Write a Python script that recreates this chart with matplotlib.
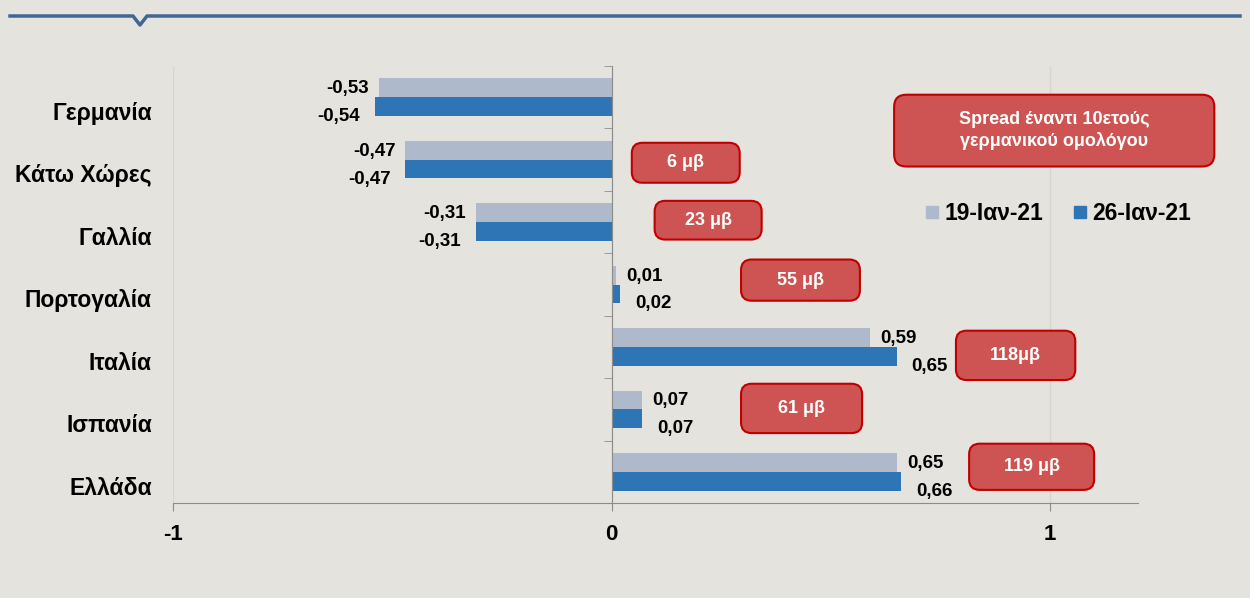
import numpy as np
import matplotlib
matplotlib.use('Agg')
import matplotlib.pyplot as plt
from matplotlib.patches import FancyBboxPatch
from matplotlib.lines import Line2D
from matplotlib.transforms import blended_transform_factory

plt.rcParams['font.family'] = ['Liberation Sans', 'DejaVu Sans']

# data
COUNTRIES = ['Γερμανία', 'Κάτω Χώρες', 'Γαλλία', 'Πορτογαλία', 'Ιταλία', 'Ισπανία', 'Ελλάδα']
JAN19 = [-0.53, -0.47, -0.31, 0.01, 0.59, 0.07, 0.65]
JAN26 = [-0.54, -0.47, -0.31, 0.02, 0.65, 0.07, 0.66]
SERIES = ['19-Ιαν-21', '26-Ιαν-21']
SPREADS = ['', '6 μβ', '23 μβ', '55 μβ', '118μβ', '61 μβ', '119 μβ']
BOX_TITLE = 'Spread έναντι 10ετούς\nγερμανικού ομολόγου'

# box layout (x0, x1, y0, y1 in data units)
BOXES = [None, (0.046, 0.292, 0.73, 1.37), (0.098, 0.342, 1.66, 2.28),
         (0.295, 0.566, 2.60, 3.26), (0.785, 1.057, 3.74, 4.53),
         (0.295, 0.571, 4.59, 5.38), (0.815, 1.100, 5.55, 6.29)]
TITLE_BOX = (0.644, 1.374, -0.04, 1.11)

BG = '#E4E3DE'
LIGHT = '#AEB9CB'
DARK = '#2E75B6'
RED = '#CD5452'
RED_EDGE = '#C00000'

fig = plt.figure(figsize=(12.5, 5.98), dpi=100, facecolor=BG)
ax = fig.add_axes([173/1250, 1-503/598, 965/1250, 437/598], facecolor=BG)

y = np.arange(len(COUNTRIES))
h = 0.3
ax.barh(y - h/2, JAN19, height=h, color=LIGHT, label=SERIES[0], zorder=3)
ax.barh(y + h/2, JAN26, height=h, color=DARK, label=SERIES[1], zorder=3)

def fmt(v):
    return ('%.2f' % v).replace('.', ',')

for i in range(len(COUNTRIES)):
    for v, yy, gap, dy in [(JAN19[i], y[i] - h/2, 10, -1), (JAN26[i], y[i] + h/2, 15, -10)]:
        ha = 'right' if v < 0 else 'left'
        ax.annotate(fmt(v), (v, yy), xytext=(-gap if v < 0 else gap, dy),
                    textcoords='offset pixels', ha=ha, va='center',
                    fontsize=13.5, fontweight='bold', color='black', zorder=5)

ax.set_xlim(-1, 1.2)
ax.set_ylim(len(COUNTRIES) - 0.5, -0.5)

# axes styling
for s in ['top', 'right']:
    ax.spines[s].set_visible(False)
ax.spines['left'].set_position(('data', 0))
ax.spines['left'].set_color('#8C8C8C')
ax.spines['bottom'].set_color('#8C8C8C')
ax.spines['left'].set_zorder(4)
ax.set_yticks([])
ax.set_yticks(np.arange(len(COUNTRIES) + 1) - 0.5, minor=True)
ax.tick_params(axis='y', which='minor', length=6, color='#8C8C8C', direction='out')
ax.set_xticks([-1, 0, 1])
ax.set_xticklabels(['-1', '0', '1'])
ax.tick_params(axis='x', length=6, color='#8C8C8C', labelsize=16, pad=9)
for lbl in ax.get_xticklabels():
    lbl.set_fontweight('bold')
ax.grid(axis='x', color='#D6D5CF', linewidth=1, zorder=0)

trans = blended_transform_factory(ax.transAxes, ax.transData)
for i, c in enumerate(COUNTRIES):
    ax.text(-0.022, y[i] + 0.26, c, transform=trans, ha='right', va='center',
            fontsize=16.5, fontweight='bold')

# spread boxes
for i, b in enumerate(BOXES):
    if b is None:
        continue
    x0, x1, y0, y1 = b
    ax.add_patch(FancyBboxPatch((x0, y0), x1 - x0, y1 - y0,
                                boxstyle='round,pad=0,rounding_size=0.024',
                                mutation_aspect=7, fc=RED, ec=RED_EDGE, lw=1.5,
                                zorder=6, clip_on=False))
    ax.text((x0 + x1) / 2, (y0 + y1) / 2, SPREADS[i], ha='center', va='center',
            color='white', fontsize=13, fontweight='bold', zorder=7)

x0, x1, y0, y1 = TITLE_BOX
ax.add_patch(FancyBboxPatch((x0, y0), x1 - x0, y1 - y0,
                            boxstyle='round,pad=0,rounding_size=0.028',
                            mutation_aspect=7, fc=RED, ec=RED_EDGE, lw=1.5,
                            zorder=6, clip_on=False))
ax.text((x0 + x1) / 2, (y0 + y1) / 2, BOX_TITLE, ha='center', va='center',
        color='white', fontsize=13, fontweight='bold', zorder=7, linespacing=1.25)

leg = fig.legend(handles=[Line2D([], [], marker='s', ls='', color=LIGHT, markersize=9),
                          Line2D([], [], marker='s', ls='', color=DARK, markersize=9)],
                 labels=SERIES, ncol=2, frameon=False, loc='center',
                 bbox_to_anchor=(1058/1250, 1-214/598), handlelength=0.6,
                 handletextpad=0.25, columnspacing=1.3,
                 prop={'size': 16.5, 'weight': 'bold'})

# header line with notch
fy = 1 - 16/598
nd = 9/598
xs = np.array([10, 133, 140, 147, 1240]) / 1250
ys = [fy, fy, fy - nd, fy, fy]
fig.add_artist(Line2D(xs, ys, color='#3F6794', lw=2.5, transform=fig.transFigure))

fig.savefig('out.png', dpi=100, facecolor=BG)
